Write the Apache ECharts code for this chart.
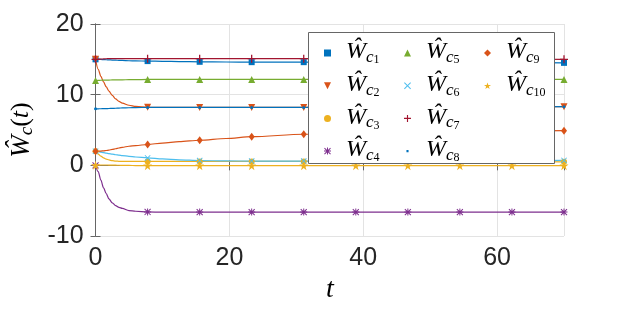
<!DOCTYPE html>
<html><head><meta charset="utf-8">
<script src="https://cdn.jsdelivr.net/npm/echarts@6/dist/echarts.min.js"></script>
<style>html,body{margin:0;padding:0;background:#fff}#c{width:623px;height:312px}</style>
</head><body><div id="c"></div>
<script>
// sample times of the curves (markers drawn at markerT)
const T = [0, 0.4, 0.8, 1.2, 1.6, 2, 2.5, 3, 3.5, 4, 5, 6, 7.78, 10, 12.5, 15.56, 19.5, 23.33, 31.11, 38.89, 46.67, 54.44, 62.22, 70];
const markerT = [0, 7.78, 15.56, 23.33, 31.11, 38.89, 46.67, 54.44, 62.22, 70];
const W1 = [15, 15, 14.98, 14.96, 14.94, 14.92, 14.9, 14.88, 14.86, 14.84, 14.8, 14.78, 14.75, 14.72, 14.68, 14.65, 14.62, 14.6, 14.6, 14.58, 14.57, 14.55, 14.53, 14.5];
const W2 = [15, 13.6, 12.6, 11.8, 11.1, 10.5, 9.9, 9.4, 9.05, 8.8, 8.5, 8.35, 8.22, 8.2, 8.2, 8.2, 8.2, 8.2, 8.2, 8.22, 8.25, 8.27, 8.3, 8.3];
const W3 = [2, 1.6, 1.3, 1.05, 0.88, 0.76, 0.66, 0.6, 0.57, 0.55, 0.55, 0.55, 0.55, 0.55, 0.55, 0.55, 0.55, 0.55, 0.55, 0.55, 0.54, 0.53, 0.52, 0.5];
const W4 = [0, -0.9, -2.1, -3.2, -4.0, -4.75, -5.3, -5.7, -5.95, -6.1, -6.4, -6.5, -6.6, -6.62, -6.62, -6.62, -6.62, -6.62, -6.62, -6.62, -6.62, -6.62, -6.62, -6.62];
const W5 = [12, 12.02, 12.04, 12.05, 12.06, 12.07, 12.08, 12.09, 12.1, 12.1, 12.12, 12.13, 12.15, 12.15, 12.15, 12.15, 12.15, 12.15, 12.15, 12.15, 12.15, 12.15, 12.15, 12.15];
const W6 = [2, 1.95, 1.88, 1.8, 1.72, 1.65, 1.58, 1.5, 1.44, 1.38, 1.28, 1.18, 1.05, 0.9, 0.78, 0.68, 0.62, 0.6, 0.6, 0.6, 0.6, 0.62, 0.65, 0.7];
const W7 = [15, 15.02, 15.04, 15.06, 15.08, 15.1, 15.1, 15.1, 15.1, 15.1, 15.1, 15.1, 15.1, 15.1, 15.1, 15.1, 15.1, 15.1, 15.1, 15.08, 15.06, 15.04, 15.02, 15.0];
const W8 = [8, 8.0, 8.01, 8.02, 8.03, 8.04, 8.06, 8.08, 8.1, 8.12, 8.15, 8.17, 8.2, 8.2, 8.2, 8.2, 8.2, 8.2, 8.2, 8.22, 8.24, 8.26, 8.28, 8.3];
const W9 = [2, 2.0, 2.02, 2.05, 2.1, 2.15, 2.25, 2.35, 2.45, 2.55, 2.7, 2.8, 2.95, 3.15, 3.35, 3.55, 3.8, 4.05, 4.4, 4.6, 4.72, 4.8, 4.85, 4.9];
const W10 = [0, 0.03, 0.05, 0.05, 0.05, 0.04, 0.03, 0.02, 0.01, 0, -0.02, -0.03, -0.05, -0.05, -0.05, -0.05, -0.05, -0.05, -0.05, -0.05, -0.05, -0.05, -0.05, -0.05];
const names = ['c1','c2','c3','c4','c5','c6','c7','c8','c9','c10'];
const xTicks = [0, 20, 40, 60];
const yTicks = [-10, 0, 10, 20];

const values = [W1, W2, W3, W4, W5, W6, W7, W8, W9, W10];
const colors = ['#0072BD','#D95319','#EDB120','#7E2F8E','#77AC30','#4DBEEE','#A2142F','#0072BD','#D95319','#EDB120'];
const PLUS = 'path://M4.2,0H5.8V4.2H10V5.8H5.8V10H4.2V5.8H0V4.2H4.2Z';
const CROSS = 'path://M1.2,0.2L9.8,8.8L8.8,9.8L0.2,1.2Z M8.8,0.2L9.8,1.2L1.2,9.8L0.2,8.8Z';
const STAR = 'path://M4.3,0H5.7V10H4.3Z M0,4.3H10V5.7H0Z M1.2,0.2L9.8,8.8L8.8,9.8L0.2,1.2Z M8.8,0.2L9.8,1.2L1.2,9.8L0.2,8.8Z';
const DOWN = 'path://M0,0L10,0L5,10Z';
const PENT = 'path://M5,0L6.2,3.6L10,3.6L6.9,5.9L8.1,9.5L5,7.3L1.9,9.5L3.1,5.9L0,3.6L3.8,3.6Z';
const DOT = 'path://M0,0L10,0L10,10L10,0Z M3.5,3.5L6.5,3.5L6.5,6.5L3.5,6.5Z';
const symbols = ['rect', DOWN, 'circle', STAR, 'triangle', CROSS, PLUS, 'circle', 'diamond', PENT];
const legendIcons = ['rect', DOWN, 'circle', STAR, 'triangle', CROSS, PLUS, DOT, 'diamond', PENT];
const symSizes = [6, 7, 6, 7, 7, 6, 8, 3, [6,8], 9];

const series = values.map((v, k) => ({
  name: names[k],
  type: 'line',
  smooth: 0.3,
  smoothMonotone: 'x',
  showAllSymbol: true,
  symbol: symbols[k],
  symbolSize: symSizes[k],
  color: colors[k],
  lineStyle: {width: 1.2, color: colors[k]},
  itemStyle: {color: colors[k]},
  emphasis: {disabled: true},
  data: T.map((t, i) => markerT.includes(t) ? {value: [t, v[i]]} : {value: [t, v[i]], symbol: 'none'})
}));

const rich = {
  s: {fontSize: 10, lineHeight: 26, width: 10},
  w: {fontFamily: 'Liberation Serif', fontStyle: 'italic', fontSize: 24, lineHeight: 21, verticalAlign: 'top', color: '#000'},
  c: {fontFamily: 'Liberation Serif', fontStyle: 'italic', fontSize: 17, lineHeight: 17.6, verticalAlign: 'bottom', color: '#000'},
  n: {fontFamily: 'Liberation Serif', fontSize: 12, lineHeight: 7.6, verticalAlign: 'bottom', color: '#000'}
};
function legendFor(idx, left) {
  return {
    orient: 'vertical', left: left, top: 40, padding: 0, itemGap: 6.7,
    itemWidth: 7, itemHeight: 7, z: 200,
    selectedMode: false,
    data: idx.map(k => ({name: names[k], icon: legendIcons[k], itemStyle: {color: colors[k]}})),
    formatter: n => '{s| }{w|Ŵ}{c|c}{n|' + n.slice(1) + '}',
    textStyle: {rich: rich}
  };
}

const chart = echarts.init(document.getElementById('c'), null, {renderer: 'canvas'});
const axisCol = '#666';
const labelStyle = {fontFamily: 'Liberation Sans', fontSize: 25, color: '#262626'};
chart.setOption({
  animation: false,
  backgroundColor: '#fff',
  grid: {left: 94, right: 59, top: 24, bottom: 76},
  graphic: {elements: [{type: 'rect', z: 100, shape: {x: 308.5, y: 32.5, width: 246, height: 131}, style: {fill: '#fff', stroke: '#666', lineWidth: 1}}]},
  legend: [legendFor([0,1,2,3], 324), legendFor([4,5,6,7], 404), legendFor([8,9], 484)],
  xAxis: [{
    type: 'value', min: 0, max: 70, interval: 20, position: 'bottom',
    axisLine: {show: true, lineStyle: {color: axisCol}},
    axisTick: {show: true, inside: true, length: 5, lineStyle: {color: axisCol}},
    splitLine: {show: true, lineStyle: {color: '#e3e3e3'}},
    axisLabel: Object.assign({margin: 10, showMaxLabel: false, formatter: v => xTicks.includes(v) ? String(v) : ''}, labelStyle),
    name: 't', nameLocation: 'middle', nameGap: 40,
    nameTextStyle: {fontFamily: 'Liberation Serif', fontStyle: 'italic', fontSize: 28, color: '#000'}
  }, {
    type: 'value', min: 0, max: 70, interval: 20, position: 'top',
    axisLine: {show: true, lineStyle: {color: axisCol}},
    axisTick: {show: true, inside: true, length: 5, lineStyle: {color: axisCol}},
    splitLine: {show: false}, axisLabel: {show: false}
  }],
  yAxis: [{
    type: 'value', min: -10, max: 20, interval: 10, position: 'left',
    axisLine: {show: true, lineStyle: {color: axisCol}},
    axisTick: {show: true, inside: true, length: 5, lineStyle: {color: axisCol}},
    splitLine: {show: true, lineStyle: {color: '#e3e3e3'}},
    axisLabel: Object.assign({margin: 12, formatter: v => yTicks.includes(v) ? String(v) : ''}, labelStyle),
    name: '{w|Ŵ}{c|c}{p|(}{t|t}{p|)}', nameLocation: 'middle', nameGap: 58, nameRotate: 90,
    nameTextStyle: {rich: {
      w: {fontFamily: 'Liberation Serif', fontStyle: 'italic', fontSize: 27, lineHeight: 30, color: '#000'},
      c: {fontFamily: 'Liberation Serif', fontStyle: 'italic', fontSize: 19, lineHeight: 16, verticalAlign: 'bottom', color: '#000'},
      p: {fontFamily: 'Liberation Serif', fontSize: 26, lineHeight: 30, color: '#000'},
      t: {fontFamily: 'Liberation Serif', fontStyle: 'italic', fontSize: 26, lineHeight: 30, color: '#000'}
    }}
  }, {
    type: 'value', min: -10, max: 20, interval: 10, position: 'right',
    axisLine: {show: true, lineStyle: {color: axisCol}},
    axisTick: {show: true, inside: true, length: 5, lineStyle: {color: axisCol}},
    splitLine: {show: false}, axisLabel: {show: false}
  }],
  series: series
});
</script>
</body></html>
